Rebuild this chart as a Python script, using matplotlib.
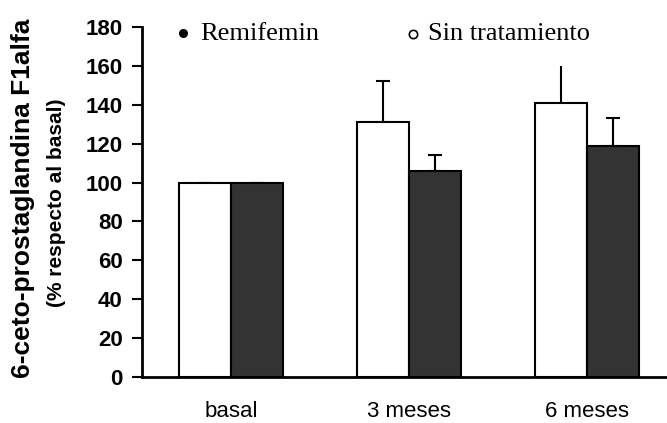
import numpy as np
import matplotlib.pyplot as plt

# mean values (% of basal) and upper error
periods = ['basal', '3 meses', '6 meses']
remifemin = [100, 131, 141]
remifemin_err = [0, 21, 19]
sin_trat = [100, 106, 119]
sin_trat_err = [0, 8, 14]

x = np.arange(len(periods))
w = 0.29

fig = plt.figure(figsize=(6.67, 4.23), dpi=100)
ax = fig.add_axes([0.213, 0.109, 0.787, 0.827])

ax.bar(x - w / 2, remifemin, w, color='white', edgecolor='black', linewidth=1.5, zorder=3)
ax.bar(x + w / 2, sin_trat, w, color='#333333', edgecolor='black', linewidth=1.5, zorder=3)

# only the upper half of each error bar is drawn; last white bar has no cap
caps_white = [5, 5, 0]
for i in range(len(periods)):
    ax.errorbar(x[i] - w / 2, remifemin[i], yerr=[[0], [remifemin_err[i]]], fmt='none',
                ecolor='black', elinewidth=1.5, capsize=caps_white[i], capthick=1.5, zorder=2)
    ax.errorbar(x[i] + w / 2, sin_trat[i], yerr=[[0], [sin_trat_err[i]]], fmt='none',
                ecolor='black', elinewidth=1.5, capsize=5, capthick=1.5, zorder=2)

ax.set_xlim(-0.5, 2.45)
ax.set_ylim(0, 180)
ax.set_yticks(range(0, 181, 20))
ax.set_xticks(x)
ax.set_xticklabels(periods, fontsize=16, fontfamily='Liberation Sans')
ax.tick_params(axis='x', length=0, pad=17)
ax.tick_params(axis='y', length=7, width=1.5, direction='out', pad=7)
for lab in ax.get_yticklabels():
    lab.set_fontfamily('Liberation Sans')
    lab.set_fontweight('bold')
    lab.set_fontsize(16)

for s in ['top', 'right']:
    ax.spines[s].set_visible(False)
for s in ['left', 'bottom']:
    ax.spines[s].set_linewidth(2)

fig.text(0.034, 0.53, '6-ceto-prostaglandina F1alfa', rotation=90, ha='center', va='center',
         fontsize=19, fontweight='bold', fontfamily='Liberation Sans')
fig.text(0.084, 0.52, '(% respecto al basal)', rotation=90, ha='center', va='center',
         fontsize=15, fontweight='bold', fontfamily='Liberation Sans')

# legend written as plain text with round markers
fig.lines.append(plt.Line2D([0.274], [0.922], marker='o', markersize=5.5, color='black',
                            transform=fig.transFigure))
fig.lines.append(plt.Line2D([0.619], [0.92], marker='o', markersize=6, markerfacecolor='white',
                            markeredgecolor='black', markeredgewidth=1.2, transform=fig.transFigure))
fig.text(0.300, 0.905, 'Remifemin', ha='left', va='baseline', fontsize=19, fontfamily='Liberation Serif')
fig.text(0.641, 0.905, 'Sin tratamiento', ha='left', va='baseline', fontsize=19, fontfamily='Liberation Serif')

fig.savefig('out.png', dpi=100)
